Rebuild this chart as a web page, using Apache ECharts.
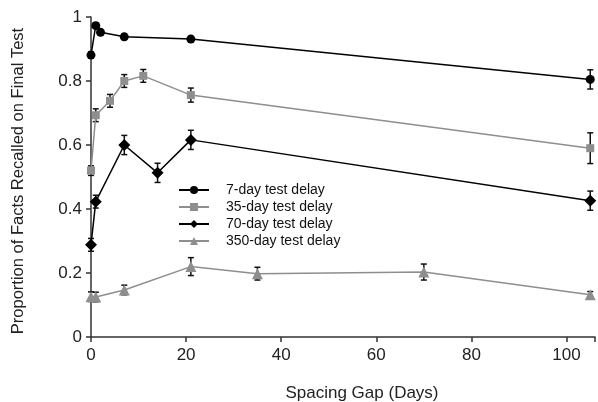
<!DOCTYPE html>
<html>
<head>
<meta charset="utf-8">
<script src="https://cdn.jsdelivr.net/npm/echarts@6/dist/echarts.min.js"></script>
<style>html,body{margin:0;padding:0;background:#fff}#c{width:598px;height:402px}</style>
</head>
<body>
<div id="c"></div>
<script>
var seriesNames = ['7-day test delay', '35-day test delay', '70-day test delay', '350-day test delay'];
var gaps7 = [0, 1, 2, 7, 21, 105];
var vals7 = [0.881, 0.973, 0.952, 0.938, 0.931, 0.805];
var err7 = [0.01, 0.008, 0.008, 0.008, 0.008, 0.03];
var gaps35 = [0, 1, 4, 7, 11, 21, 105];
var vals35 = [0.52, 0.693, 0.738, 0.800, 0.816, 0.756, 0.59];
var err35 = [0.015, 0.02, 0.02, 0.02, 0.02, 0.022, 0.048];
var gaps70 = [0, 1, 7, 14, 21, 105];
var vals70 = [0.288, 0.423, 0.600, 0.513, 0.616, 0.426];
var err70 = [0.02, 0.02, 0.03, 0.03, 0.03, 0.03];
var gaps350 = [0, 1, 7, 21, 35, 70, 105];
var vals350 = [0.126, 0.125, 0.147, 0.220, 0.198, 0.203, 0.132];
var err350 = [0.015, 0.015, 0.015, 0.028, 0.02, 0.025, 0.01];
var xTicks = [0, 20, 40, 60, 80, 100];
var yTicks = [0, 0.2, 0.4, 0.6, 0.8, 1];

var FONT = 'Liberation Sans, Arial, sans-serif';
var BLACK = '#000000';
var GRAY = '#8e8e8e';

function pts(g, v) { return g.map(function (x, i) { return [x, v[i]]; }); }
function errs(g, v, e) { return g.map(function (x, i) { return [x, v[i] - e[i], v[i] + e[i]]; }); }

function errSeries(data) {
  return {
    type: 'custom',
    silent: true,
    z: 1,
    renderItem: function (params, api) {
      var x = api.value(0);
      var lo = api.coord([x, api.value(1)]);
      var hi = api.coord([x, api.value(2)]);
      var w = 3;
      var st = { stroke: '#111', lineWidth: 1.5 };
      return {
        type: 'group',
        children: [
          { type: 'line', shape: { x1: lo[0], y1: lo[1], x2: hi[0], y2: hi[1] }, style: st },
          { type: 'line', shape: { x1: lo[0] - w, y1: lo[1], x2: lo[0] + w, y2: lo[1] }, style: st },
          { type: 'line', shape: { x1: hi[0] - w, y1: hi[1], x2: hi[0] + w, y2: hi[1] }, style: st }
        ]
      };
    },
    encode: { x: 0, y: [1, 2] },
    data: data
  };
}

function lineSeries(name, data, color, symbol, size) {
  return {
    name: name,
    type: 'line',
    data: data,
    symbol: symbol,
    symbolSize: size,
    z: 3,
    lineStyle: { color: color, width: 1.5 },
    itemStyle: { color: color },
    emphasis: { disabled: true }
  };
}

var chart = echarts.init(document.getElementById('c'), null, { renderer: 'canvas' });
chart.setOption({
  animation: false,
  backgroundColor: '#fff',
  grid: { left: 91, right: 1, top: 17, bottom: 65 },
  legend: {
    orient: 'vertical',
    left: 178,
    top: 183,
    padding: 0,
    itemWidth: 30,
    itemHeight: 10,
    itemGap: 3,
    data: seriesNames,
    textStyle: { fontFamily: FONT, fontSize: 14, color: '#111', padding: [0, 0, 0, 12] }
  },
  xAxis: {
    type: 'value',
    min: 0,
    max: 106,
    interval: 20,
    splitLine: { show: false },
    axisLine: { lineStyle: { color: '#333', width: 1.5 } },
    axisTick: { length: 5, lineStyle: { color: '#333', width: 1.5 } },
    axisLabel: {
      fontFamily: FONT, fontSize: 17, color: '#222', margin: 10,
      formatter: function (v) { return xTicks.indexOf(v) >= 0 ? String(v) : ''; }
    }
  },
  yAxis: {
    type: 'value',
    min: 0,
    max: 1,
    interval: 0.2,
    splitLine: { show: false },
    axisLine: { show: true, lineStyle: { color: '#333', width: 1.5 } },
    axisTick: { show: true, length: 5, lineStyle: { color: '#333', width: 1.5 } },
    axisLabel: {
      fontFamily: FONT, fontSize: 17, color: '#222', margin: 9,
      formatter: function (v) {
        for (var i = 0; i < yTicks.length; i++) { if (Math.abs(yTicks[i] - v) < 1e-9) return String(yTicks[i]); }
        return '';
      }
    }
  },
  graphic: [
    {
      type: 'text', x: 362, y: 393, style: {
        text: 'Spacing Gap (Days)', x: 0, y: 0, align: 'center', verticalAlign: 'middle',
        fontFamily: FONT, fontSize: 17, fill: '#222'
      }
    },
    {
      type: 'text', x: 18, y: 181, rotation: Math.PI / 2, style: {
        text: 'Proportion of Facts Recalled on Final Test', x: 0, y: 0, align: 'center', verticalAlign: 'middle',
        fontFamily: FONT, fontSize: 16.5, fill: '#222'
      }
    }
  ],
  series: [
    errSeries(errs(gaps7, vals7, err7)),
    errSeries(errs(gaps35, vals35, err35)),
    errSeries(errs(gaps70, vals70, err70)),
    errSeries(errs(gaps350, vals350, err350)),
    lineSeries(seriesNames[0], pts(gaps7, vals7), BLACK, 'circle', 9),
    lineSeries(seriesNames[1], pts(gaps35, vals35), GRAY, 'rect', 8),
    lineSeries(seriesNames[2], pts(gaps70, vals70), BLACK, 'diamond', 12),
    lineSeries(seriesNames[3], pts(gaps350, vals350), GRAY, 'triangle', 11)
  ]
});
</script>
</body>
</html>
